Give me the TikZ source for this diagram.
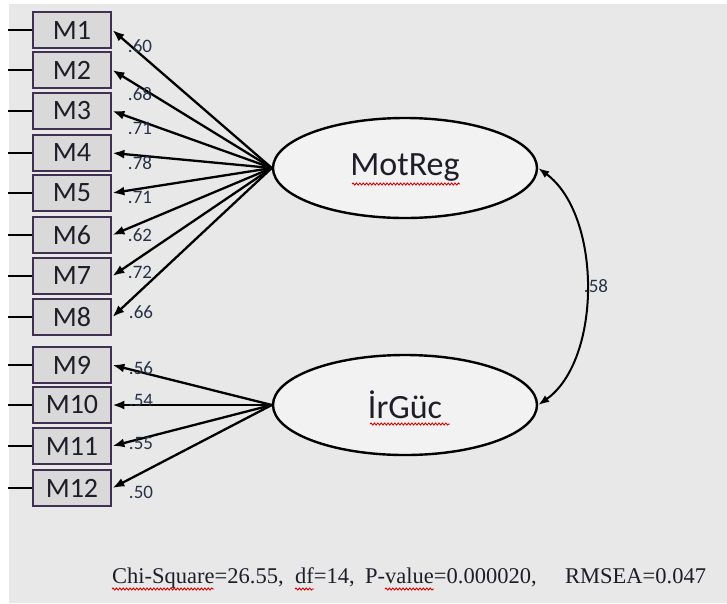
\documentclass[tikz,border=0pt]{standalone}
\usepackage{fontspec}
\setmainfont{Liberation Serif}
\newfontfamily\carlito{Carlito}
\usetikzlibrary{shapes.geometric,arrows.meta,decorations.pathmorphing}
\definecolor{bgc}{RGB}{232,232,232}
\definecolor{boxc}{RGB}{64,49,82}
\definecolor{boxf}{RGB}{217,217,217}
\definecolor{ellf}{RGB}{242,242,242}
\definecolor{txt}{RGB}{30,30,40}
\definecolor{lblc}{RGB}{40,50,70}
\tikzset{
  ind/.style={draw=boxc, fill=boxf, line width=2.8pt, minimum width=78pt, minimum height=36pt, inner sep=0pt, font=\carlito\fontsize{28}{28}\selectfont, text=txt},
  lat/.style={ellipse, draw=black, line width=2.4pt, fill=ellf, minimum width=264pt, minimum height=100pt, inner sep=0pt, font=\carlito\fontsize{34}{34}\selectfont, text=txt},
  load/.style={font=\carlito\fontsize{19}{19}\selectfont, text=lblc, inner sep=0pt},
  arr/.style={-{Latex[length=12pt,width=9pt]}, line width=2.3pt},
  arrb/.style={{Latex[length=11pt,width=8pt]}-{Latex[length=11pt,width=8pt]}, line width=2pt},
  err/.style={line width=1.4pt},
  fitt/.style={anchor=base west, inner sep=0pt, font=\fontsize{22.5}{22.5}\selectfont, text=txt},
  squig/.style={draw=red!85!black, line width=0.9pt, decorate, decoration={snake, amplitude=1pt, segment length=3.4pt}}
}
\begin{document}
\begin{tikzpicture}[x=1pt,y=-1pt]
\useasboundingbox (0,0) rectangle (727,603);
\fill[white] (0,0) rectangle (727,603);
\fill[bgc] (9,4) rectangle (727,603);
% indicators
\foreach \i/\y in {1/30,2/70,3/111,4/153,5/193,6/235,7/276,8/317,9/365,10/405,11/446,12/488}{
  \node[ind] (m\i) at (72,\y) {M\i};
  \coordinate (e\i) at (8,\y);
  \draw[err] (e\i) -- (m\i.west);
}
% latent
\node[lat] (mot) at (405,168) {MotReg};
\node[lat] (irg) at (405,405) {İrGüc};
\draw[squig] (352,184) -- (460,184);
\draw[squig] (370,424) -- (450,424);
% loadings arrows
\foreach \i in {1,...,8}{\draw[arr] (mot.west) -- (m\i.east);}
\foreach \i in {9,...,12}{\draw[arr] (irg.west) -- (m\i.east);}
% loading labels
\node[load] (l1) at (140,46) {.60};
\node[load] (l2) at (140,94) {.68};
\node[load] (l3) at (140,128) {.71};
\node[load] (l4) at (140,163) {.78};
\node[load] (l5) at (140,197) {.71};
\node[load] (l6) at (140,235) {.62};
\node[load] (l7) at (140,272) {.72};
\node[load] (l8) at (141,312) {.66};
\node[load] (l9) at (141,368) {.56};
\node[load] (l10) at (141,400) {.54};
\node[load] (l11) at (141,443) {.55};
\node[load] (l12) at (141,492) {.50};
% correlation
\draw[arrb] (mot.east) .. controls (602,215) and (602,360) .. (irg.east);
\node[load] (r) at (596,286) {.58};
% fit statistics
\node[fitt] (fit1) at (112,583) {Chi-Square=26.55,};
\node[fitt] (fit2) at (295,583) {df=14,};
\node[fitt] (fit3) at (365,583) {P-value=0.000020,};
\node[fitt] (fit4) at (565,583) {RMSEA=0.047};
\draw[squig] (112,589) -- (214,589);
\draw[squig] (295,589) -- (314,589);
\draw[squig] (385,589) -- (434,589);
\end{tikzpicture}
\end{document}
